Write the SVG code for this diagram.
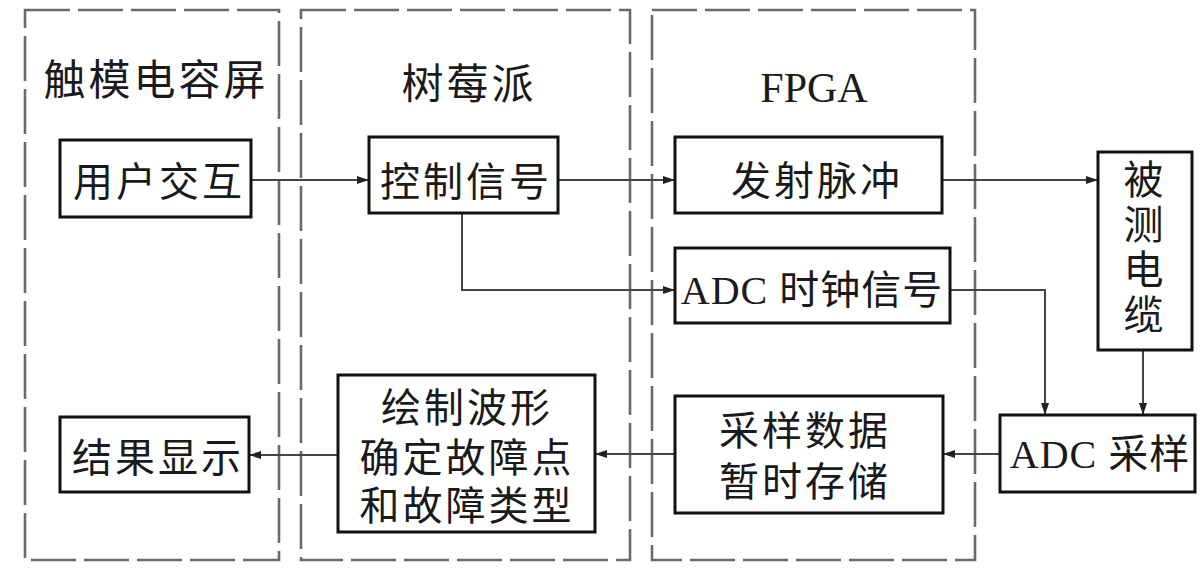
<svg xmlns="http://www.w3.org/2000/svg" width="1200" height="585" viewBox="0 0 1200 585">
<style>
.panel{fill:none;stroke:#6a6a6a;stroke-width:2.6;stroke-dasharray:45 8}
.box{fill:#fff;stroke:#111;stroke-width:3}
.t{font-family:"Liberation Serif","Noto Sans CJK SC",serif;font-size:40px;fill:#1a1a1a;text-anchor:middle;letter-spacing:3px}
.title{font-size:42px}
.c{fill:none;stroke:#444;stroke-width:2}
</style>
<defs>
<marker id="ah" viewBox="0 0 12 8" refX="12" refY="4" markerWidth="12" markerHeight="8" markerUnits="userSpaceOnUse" orient="auto">
<path d="M0,0 L12,4 L0,8 Z" fill="#222"/>
</marker>
</defs>
<rect x="0" y="0" width="1200" height="585" fill="#fff"/>
<g id="panels">
<rect id="panel-touch" class="panel" x="25" y="10" width="254" height="550"/>
<rect id="panel-raspberry" class="panel" x="301" y="10" width="329" height="550"/>
<rect id="panel-fpga" class="panel" x="652" y="10" width="323" height="550"/>
<text class="t title" x="156" y="95">触模电容屏</text>
<text class="t title" x="469" y="99">树莓派</text>
<text class="t title" x="814" y="102" style="letter-spacing:0">FPGA</text>
</g>
<g id="connectors">
<line class="c" x1="251" y1="180" x2="369" y2="180" marker-end="url(#ah)"/>
<line class="c" x1="558" y1="180" x2="675" y2="180" marker-end="url(#ah)"/>
<line class="c" x1="942" y1="180" x2="1098" y2="180" marker-end="url(#ah)"/>
<polyline class="c" points="462,213 462,290 675,290" marker-end="url(#ah)"/>
<polyline class="c" points="950,290 1045,290 1045,415" marker-end="url(#ah)"/>
<line class="c" x1="1143" y1="350" x2="1143" y2="415" marker-end="url(#ah)"/>
<line class="c" x1="1000" y1="454" x2="943" y2="454" marker-end="url(#ah)"/>
<line class="c" x1="675" y1="454" x2="595" y2="454" marker-end="url(#ah)"/>
<line class="c" x1="338" y1="455" x2="249" y2="455" marker-end="url(#ah)"/>
</g>
<g id="node-user">
<rect class="box" x="60" y="140" width="191" height="77"/>
<text class="t" x="159" y="196">用户交互</text>
</g>
<g id="node-control">
<rect class="box" x="369" y="137" width="189" height="76"/>
<text class="t" x="466" y="196">控制信号</text>
</g>
<g id="node-pulse">
<rect class="box" x="675" y="137" width="267" height="76"/>
<text class="t" x="817" y="195">发射脉冲</text>
</g>
<g id="node-adcclk">
<rect class="box" x="675" y="248" width="275" height="75"/>
<text class="t" x="812" y="304" style="letter-spacing:1px">ADC 时钟信号</text>
</g>
<g id="node-cable">
<rect class="box" x="1098" y="152" width="94" height="198"/>
<text class="t" x="1145" y="194">被</text>
<text class="t" x="1145" y="239">测</text>
<text class="t" x="1145" y="284">电</text>
<text class="t" x="1145" y="329">缆</text>
</g>
<g id="node-adc">
<rect class="box" x="1000" y="415" width="195" height="77"/>
<text class="t" x="1100" y="468" style="letter-spacing:1px">ADC 采样</text>
</g>
<g id="node-store">
<rect class="box" x="675" y="396" width="268" height="117"/>
<text class="t" x="805" y="445">采样数据</text>
<text class="t" x="805" y="496">暂时存储</text>
</g>
<g id="node-draw">
<rect class="box" x="338" y="375" width="257" height="157"/>
<text class="t" x="467" y="422">绘制波形</text>
<text class="t" x="467" y="472">确定故障点</text>
<text class="t" x="467" y="520">和故障类型</text>
</g>
<g id="node-result">
<rect class="box" x="60" y="417" width="189" height="75"/>
<text class="t" x="158" y="472">结果显示</text>
</g>
</svg>
